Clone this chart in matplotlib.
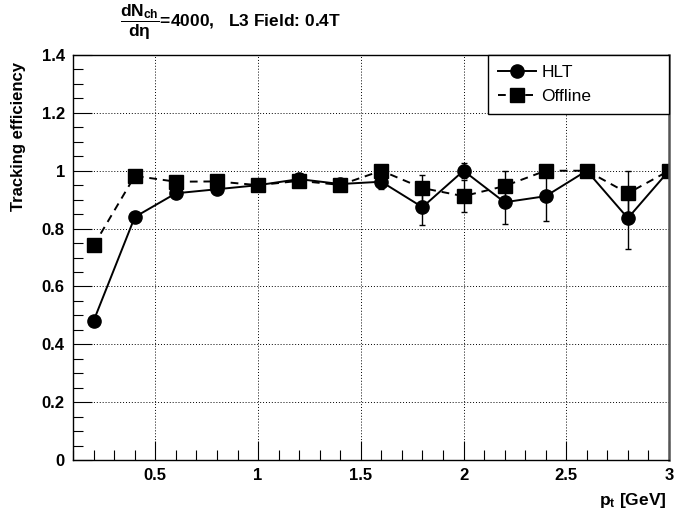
import numpy as np
import matplotlib
matplotlib.use('Agg')
import matplotlib.pyplot as plt
from matplotlib.ticker import MultipleLocator

plt.rcParams['font.family'] = ['Liberation Sans', 'DejaVu Sans']
plt.rcParams['mathtext.fontset'] = 'custom'
plt.rcParams['mathtext.rm'] = 'Liberation Sans:bold'
plt.rcParams['mathtext.bf'] = 'Liberation Sans:bold'
plt.rcParams['mathtext.it'] = 'Liberation Sans:bold'

# pt bins [GeV]
pt = [0.2, 0.4, 0.6, 0.8, 1.0, 1.2, 1.4, 1.6, 1.8, 2.0, 2.2, 2.4, 2.6, 2.8, 3.0]
# HLT tracking efficiency
hlt = [0.482, 0.840, 0.922, 0.936, 0.950, 0.971, 0.954, 0.962, 0.874, 1.0,
       0.891, 0.912, 1.0, 0.836, 1.0]
hlt_err = [0.01, 0.01, 0.01, 0.012, 0.012, 0.012, 0.015, 0.025, 0.062, 0.025,
           0.075, 0.085, 0.0, 0.105, 0.0]
# offline tracking efficiency
off = [0.742, 0.982, 0.962, 0.963, 0.950, 0.965, 0.951, 1.0, 0.940, 0.912,
       0.947, 1.0, 1.0, 0.922, 1.0]
off_err = [0.01, 0.005, 0.008, 0.008, 0.01, 0.01, 0.015, 0.0, 0.046, 0.055,
           0.053, 0.0, 0.0, 0.078, 0.0]

fig = plt.figure(figsize=(6.84, 5.14), dpi=100)
ax = fig.add_axes([0.107, 0.105, 0.871, 0.788])

ax.errorbar(pt, hlt, yerr=hlt_err, fmt='none', ecolor='black', elinewidth=1.0,
            capsize=2, capthick=1.0)
ax.errorbar(pt, off, yerr=off_err, fmt='none', ecolor='black', elinewidth=1.0,
            capsize=2, capthick=1.0)
ax.plot(pt, hlt, color='black', lw=1.4, marker='o', ms=9.5, label='HLT')
ax.plot(pt, off, color='black', lw=1.4, ls=(0, (4, 3)), marker='s', ms=9.5,
        label='Offline')

ax.set_xlim(0.1, 3.0)
ax.set_ylim(0, 1.4)
ax.xaxis.set_minor_locator(MultipleLocator(0.1))
ax.yaxis.set_minor_locator(MultipleLocator(0.05))
ax.set_xticks([0.5, 1, 1.5, 2, 2.5, 3])
ax.set_xticklabels(['0.5', '1', '1.5', '2', '2.5', '3'])
ax.set_yticks([0, 0.2, 0.4, 0.6, 0.8, 1, 1.2, 1.4])
ax.set_yticklabels(['0', '0.2', '0.4', '0.6', '0.8', '1', '1.2', '1.4'])
ax.tick_params(which='major', direction='in', length=14, width=0.8,
               labelsize=12, pad=6)
ax.tick_params(which='minor', direction='in', length=7, width=0.8)
for lab in ax.get_xticklabels() + ax.get_yticklabels():
    lab.set_fontweight('bold')
ax.grid(True, which='major', ls=(0, (1, 2)), color='black', lw=0.7)
for s in ax.spines.values():
    s.set_linewidth(1.0)
ax.spines['right'].set_linewidth(1.8)
ax.spines['right'].set_color('#555555')

leg = ax.legend(loc='upper left', bbox_to_anchor=(0.697, 0.864, 0.303, 0.136),
                mode='expand', borderaxespad=0, fancybox=False, framealpha=1,
                edgecolor='black', fontsize=12.5, handlelength=2.2,
                handletextpad=0.3, labelspacing=0.55, borderpad=0.55)
leg.get_frame().set_linewidth(1.0)

fig.text(0.175, 0.957, r'$\dfrac{dN_{ch}}{d\eta}$=4000,   L3 Field: 0.4T',
         fontsize=12.5, fontweight='bold', ha='left', va='center')
fig.text(0.027, 0.735, 'Tracking efficiency', rotation=90, fontsize=12,
         fontweight='bold', ha='center', va='center')
fig.text(0.975, 0.027, r'p$_t$ [GeV]', fontsize=12.5, fontweight='bold',
         ha='right', va='center')

fig.savefig('out.png', dpi=100)
